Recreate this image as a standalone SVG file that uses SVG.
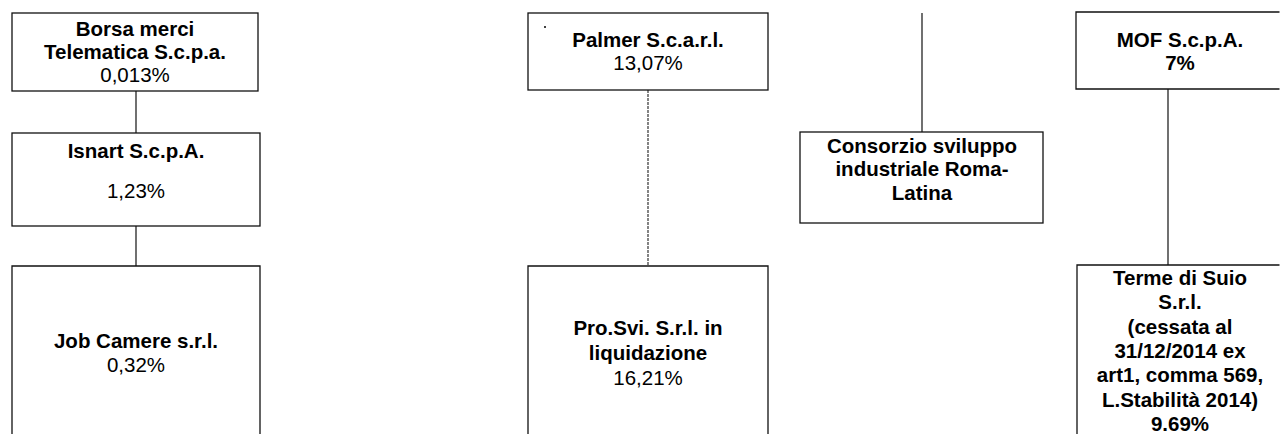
<svg xmlns="http://www.w3.org/2000/svg" width="1281" height="434" viewBox="0 0 1281 434">
<style>
.box{fill:#fff;stroke:#111;stroke-width:1.3}
.open{fill:none;stroke:#111;stroke-width:1.3}
.con{fill:none;stroke:#111;stroke-width:1.2}
.dot{stroke-dasharray:3 1;stroke:#333}
text{font-family:"Liberation Sans",Arial,sans-serif;font-size:20.5px;text-anchor:middle;fill:#000}
.b{font-weight:bold}
</style>
<rect width="1281" height="434" fill="#fff"/>
<g id="connectors">
<line class="con" x1="136" y1="91" x2="136" y2="133"/>
<line class="con" x1="136" y1="226" x2="136" y2="266"/>
<line class="con dot" x1="648" y1="90" x2="648" y2="266"/>
<line class="con" x1="922" y1="13" x2="922" y2="132"/>
<line class="con" x1="1168" y1="89" x2="1168" y2="265"/>
</g>
<g id="borsa">
<rect class="box" x="12" y="13" width="246" height="78"/>
<text class="b" x="135" y="36">Borsa merci</text>
<text class="b" x="135" y="59">Telematica S.c.p.a.</text>
<text x="135" y="82">0,013%</text>
</g>
<g id="isnart">
<rect class="box" x="12" y="133" width="248" height="93"/>
<text class="b" x="136" y="158">Isnart S.c.p.A.</text>
<text x="136" y="198">1,23%</text>
</g>
<g id="jobcamere">
<path class="open" d="M12,435 V266 H260 V435"/>
<text class="b" x="136" y="348">Job Camere s.r.l.</text>
<text x="136" y="372">0,32%</text>
</g>
<g id="palmer">
<rect class="box" x="528" y="13" width="240" height="77"/>
<circle cx="545" cy="27" r="1" fill="#000"/>
<text class="b" x="648" y="47">Palmer S.c.a.r.l.</text>
<text x="648" y="70">13,07%</text>
</g>
<g id="prosvi">
<path class="open" d="M528,435 V266 H768 V435"/>
<text class="b" x="648" y="335">Pro.Svi. S.r.l. in</text>
<text class="b" x="648" y="360">liquidazione</text>
<text x="648" y="385">16,21%</text>
</g>
<g id="consorzio">
<rect class="box" x="800" y="132" width="243" height="91"/>
<text class="b" x="922" y="153">Consorzio sviluppo</text>
<text class="b" x="922" y="176">industriale Roma-</text>
<text class="b" x="922" y="200">Latina</text>
</g>
<g id="mof">
<path class="open" d="M1279.5,12 H1076 V89 H1279.5"/>
<text class="b" x="1180" y="47">MOF S.c.p.A.</text>
<text class="b" x="1180" y="70">7%</text>
</g>
<g id="terme">
<path class="open" d="M1077,435 V265 H1279.5"/>
<text class="b" x="1180" y="285">Terme di Suio</text>
<text class="b" x="1180" y="309.3">S.r.l.</text>
<text class="b" x="1180" y="333.6">(cessata al</text>
<text class="b" x="1180" y="357.9">31/12/2014 ex</text>
<text class="b" x="1180" y="382.2">art1, comma 569,</text>
<text class="b" x="1180" y="406.5">L.Stabilità 2014)</text>
<text class="b" x="1180" y="430.8">9.69%</text>
</g>
</svg>
